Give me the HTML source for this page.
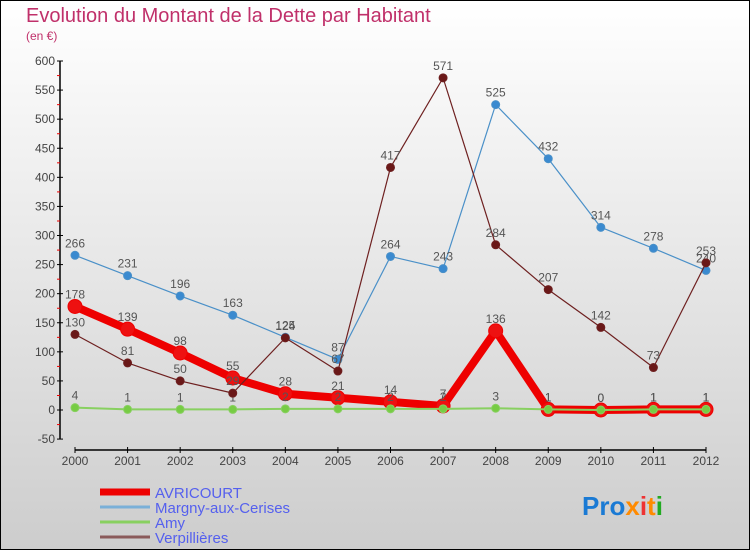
<!DOCTYPE html>
<html><head><meta charset="utf-8"><style>
body{margin:0;width:750px;height:550px;overflow:hidden;font-family:"Liberation Sans",sans-serif}
svg{display:block}
</style></head><body>
<svg id="c" width="750" height="550" xmlns="http://www.w3.org/2000/svg">
<defs><linearGradient id="bg" x1="0" y1="0" x2="0" y2="1"><stop offset="0" stop-color="#ffffff"/><stop offset="1" stop-color="#cdcdcd"/></linearGradient></defs>
<rect x="0.5" y="0.5" width="749" height="549" fill="url(#bg)" stroke="#000"/>
<text x="26" y="22" font-size="20" fill="#c0306a" font-weight="300">Evolution du Montant de la Dette par Habitant</text>
<text x="26" y="40" font-size="12" fill="#c0306a">(en €)</text>
<g id="axes"></g><g id="series"></g><g id="legend"></g>
<text x="582" y="515" font-size="26" font-weight="bold"><tspan fill="#1a7ad4">Pro</tspan><tspan fill="#ff8a00">x</tspan><tspan fill="#e33">i</tspan><tspan fill="#ff8a00">t</tspan><tspan fill="#2a2">i</tspan></text>
</svg>
<script>
const years=[2000,2001,2002,2003,2004,2005,2006,2007,2008,2009,2010,2011,2012];
const yTicks=[-50,0,50,100,150,200,250,300,350,400,450,500,550,600];
const avricourt=[178,139,98,55,28,21,14,7,136,1,0,1,1];
const margny=[266,231,196,163,125,87,264,243,525,432,314,278,240];
const amy=[4,1,1,1,2,2,2,2,3,1,0,1,1];
const verpillieres=[130,81,50,29,124,67,417,571,284,207,142,73,253];
const NS="http://www.w3.org/2000/svg";
const xS=i=>75+i*(706-75)/12;
const yS=v=>410-v*(349/600);
function mk(t,a,p){const e=document.createElementNS(NS,t);for(const k in a)e.setAttribute(k,a[k]);p.appendChild(e);return e;}
const ax=document.getElementById('axes');
let l=mk('line',{x1:60,y1:yS(600),x2:60,y2:yS(-50),stroke:'#000','stroke-width':1.5},ax);


l=mk('line',{x1:xS(0),y1:450,x2:xS(12),y2:450,stroke:'#000','stroke-width':1.5},ax);


yTicks.forEach(v=>{const y=yS(v);
 mk('line',{x1:57,y1:y,x2:63,y2:y,stroke:'#000'},ax);
 if(v<600) mk('line',{x1:57,y1:y-14.5,x2:60,y2:y-14.5,stroke:'#e00'},ax);
 const t=mk('text',{x:55,y:y+4,'font-size':12,fill:'#444','text-anchor':'end'},ax);t.textContent=v;
 
 });
years.forEach((yr,i)=>{const x=xS(i);
 mk('line',{x1:x,y1:447,x2:x,y2:453,stroke:'#000'},ax);
 const t=mk('text',{x:x,y:465,'font-size':12,fill:'#444','text-anchor':'middle'},ax);t.textContent=yr;
 
 });
const sg=document.getElementById('series');
function series(data,color,w,r,fill,name){
 const g=mk('g',{},sg);
 
 
 mk('polyline',{points:data.map((v,i)=>xS(i)+','+yS(v)).join(' '),fill:'none',stroke:color,'stroke-width':w,'stroke-linejoin':'round'},g);
 data.forEach((v,i)=>{const c=mk('circle',{cx:xS(i),cy:yS(v),r:r,fill:fill,stroke:color,'stroke-width':1},g);
  
  
  const t=mk('text',{x:xS(i),y:yS(v)-8,'font-size':12,fill:'#555','text-anchor':'middle'},g);t.textContent=v;
  
  });
}
series(avricourt,'#ee0000',8,7,'#ee1111','avricourt');
series(margny,'#4a90c8',1.2,4,'#3a8ad0','margny');
series(amy,'#88d060',2,4,'#77cc44','amy');
series(verpillieres,'#6e2020',1.2,4,'#6a1818','verpillieres');
const lg=document.getElementById('legend');
[['AVRICOURT','#ee0000',7],['Margny-aux-Cerises','#7ab0d8',3],['Amy','#88d060',3],['Verpillières','#8a5a5a',3]].forEach((e,i)=>{
 const y=492+i*15;
 const g=mk('g',{},lg);
 
 
 mk('line',{x1:100,y1:y,x2:150,y2:y,stroke:e[1],'stroke-width':e[2]},g);
 const t=mk('text',{x:155,y:y+6,'font-size':15,fill:'#5560ee'},g);t.textContent=e[0];
});
</script>
</body></html>
